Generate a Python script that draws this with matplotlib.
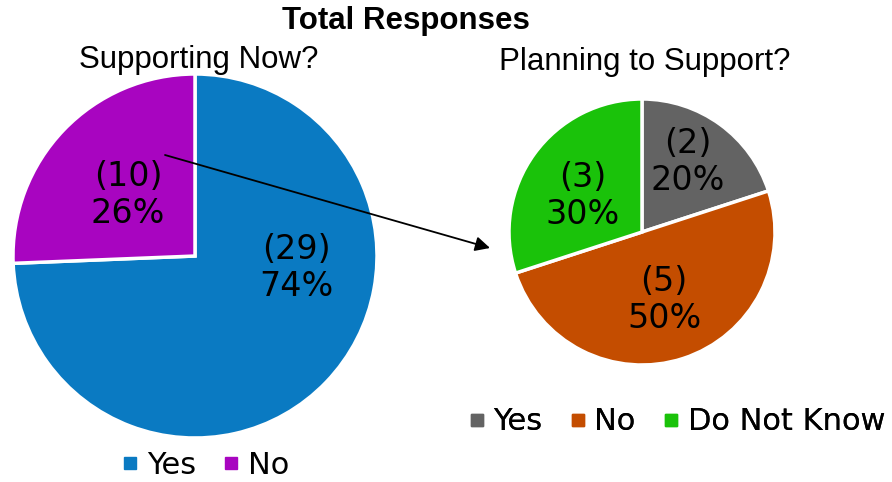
import matplotlib.pyplot as plt
from matplotlib.lines import Line2D

# dados das duas perguntas
now_labels = ['Yes', 'No']
now_counts = [29, 10]
now_colors = ['#0A7AC2', '#A805C0']

plan_labels = ['Yes', 'No', 'Do Not Know']
plan_counts = [2, 5, 3]
plan_colors = ['#636363', '#C44D00', '#1AC20A']

W, H = 892, 482
fig = plt.figure(figsize=(W / 100, H / 100), dpi=100)
ax = fig.add_axes([0, 0, 1, 1])


def pie_labels(counts, positions):
    total = sum(counts)
    for c, (x, y) in zip(counts, positions):
        ax.text(x, H - y, '(%d)\n%d%%' % (c, round(100 * c / total)),
                ha='center', va='center', fontsize=24, family='DejaVu Sans',
                linespacing=1.15)


# pizza da esquerda
ax.pie(now_counts, colors=now_colors, startangle=90, counterclock=False,
       center=(195, H - 256), radius=182,
       wedgeprops=dict(edgecolor='white', linewidth=2.5))
pie_labels(now_counts, [(296, 268), (128, 195)])

# pizza da direita
ax.pie(plan_counts, colors=plan_colors, startangle=90, counterclock=False,
       center=(642, H - 232), radius=133,
       wedgeprops=dict(edgecolor='white', linewidth=2.5))
pie_labels(plan_counts, [(688, 162), (664, 300), (583, 196)])

ax.set_xlim(0, W)
ax.set_ylim(0, H)
ax.set_aspect('equal')
ax.axis('off')

# titulos
ax.text(406, H - 21, 'Total Responses', ha='center', va='center',
        fontsize=22.5, fontweight='bold', family='Liberation Sans')
ax.text(199, H - 60, 'Supporting Now?', ha='center', va='center',
        fontsize=22.5, family='Liberation Sans')
ax.text(645, H - 62, 'Planning to Support?', ha='center', va='center',
        fontsize=22.5, family='Liberation Sans')

# seta ligando o "No" ao segundo grafico
ax.annotate('', xy=(490, H - 248), xytext=(165, H - 155),
            arrowprops=dict(arrowstyle='-|>', color='black', lw=1.3,
                            mutation_scale=22, shrinkA=0, shrinkB=0))


def legenda(labels, colors, x, y):
    handles = [Line2D([], [], marker='s', linestyle='', color=c, markersize=9)
               for c in colors]
    leg = ax.legend(handles, labels, loc='center', ncol=len(labels),
                    bbox_to_anchor=(x / W, 1 - y / H), bbox_transform=fig.transFigure,
                    frameon=False, prop={'family': 'DejaVu Sans', 'size': 22},
                    handlelength=0.5, handletextpad=0.3, columnspacing=0.9,
                    borderpad=0, borderaxespad=0)
    ax.add_artist(leg)


legenda(now_labels, now_colors, 206, 465)
legenda(plan_labels, plan_colors, 677, 422)

fig.savefig('out.png', dpi=100)
